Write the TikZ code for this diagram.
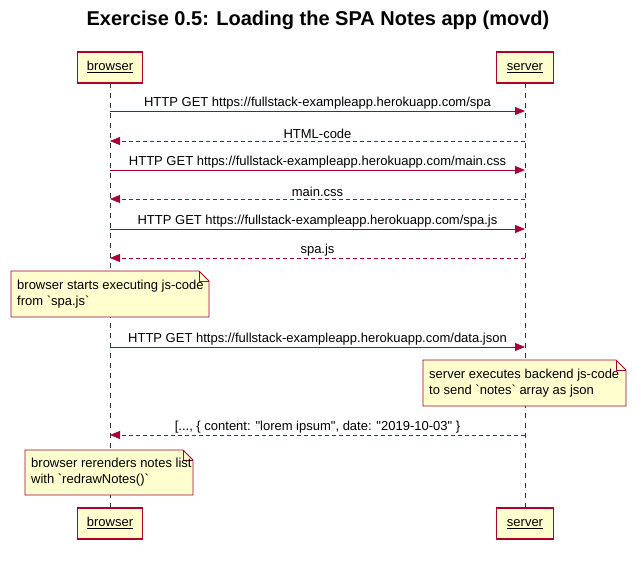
\documentclass[tikz,border=0pt]{standalone}
\usepackage{fontspec}
\setmainfont{Liberation Sans}[Ligatures=TeXOff]
\usetikzlibrary{arrows.meta}
\definecolor{pred}{HTML}{A80036}
\definecolor{pfill}{HTML}{FEFECE}
\newcommand{\bq}{\symbol{96}}
\newcommand{\dq}{\symbol{34}}
\tikzset{
  x=1pt, y=-1pt,
  partbox/.style={draw=pred, fill=pfill, line width=1.2pt, minimum height=31pt, inner xsep=6pt, text height=9.5pt, text depth=3pt, font=\fontsize{13}{15}\selectfont},
  lifeline/.style={dash pattern=on 5pt off 5pt, line width=0.8pt, black!80},
  msg/.style={draw=pred, line width=0.8pt, -{Triangle[length=10pt,width=8pt]}},
  ret/.style={msg, dash pattern=on 4pt off 3pt},
  mlabel/.style={font=\fontsize{13}{15}\selectfont, anchor=south, inner sep=1.5pt},
  notetext/.style={font=\fontsize{13}{16}\selectfont, align=left, anchor=north west, inner sep=0pt},
}
\newcommand{\notebox}[4]{% x1,y1,x2,y2
  \fill[pfill] (#1,#2) -- (#3-10,#2) -- (#3,#2+10) -- (#3,#4) -- (#1,#4) -- cycle;
  \draw[pred, line width=0.8pt] (#1,#2) -- (#3-10,#2) -- (#3,#2+10) -- (#3,#4) -- (#1,#4) -- cycle;
  \draw[pred, line width=0.8pt] (#3-10,#2) -- (#3-10,#2+10) -- (#3,#2+10);
}
\begin{document}
\begin{tikzpicture}
\useasboundingbox (0,0) rectangle (635,564);
\node[font=\fontsize{20}{24}\selectfont\bfseries] (title) at (318,20) {Exercise 0.5: Loading the SPA Notes app (movd)};

\draw[lifeline] (110,83) -- (110,508);
\draw[lifeline] (525,83) -- (525,508);

\node[partbox, minimum width=65pt] (btop) at (110,67.5) {\underline{browser}};
\node[partbox, minimum width=57pt] (stop) at (525,67.5) {\underline{server}};
\node[partbox, minimum width=65pt] (bbot) at (110,523.5) {\underline{browser}};
\node[partbox, minimum width=57pt] (sbot) at (525,523.5) {\underline{server}};

% messages
\coordinate (b1) at (110,111); \coordinate (s1) at (525,111);
\draw[msg] (b1) -- node[mlabel] (m1) {HTTP GET https://fullstack-exampleapp.herokuapp.com/spa} (s1);
\coordinate (b2) at (110,141); \coordinate (s2) at (525,141);
\draw[ret] (s2) -- node[mlabel] (m2) {HTML-code} (b2);
\coordinate (b3) at (110,170); \coordinate (s3) at (525,170);
\draw[msg] (b3) -- node[mlabel] (m3) {HTTP GET https://fullstack-exampleapp.herokuapp.com/main.css} (s3);
\coordinate (b4) at (110,199); \coordinate (s4) at (525,199);
\draw[ret] (s4) -- node[mlabel] (m4) {main.css} (b4);
\coordinate (b5) at (110,229); \coordinate (s5) at (525,229);
\draw[msg] (b5) -- node[mlabel] (m5) {HTTP GET https://fullstack-exampleapp.herokuapp.com/spa.js} (s5);
\coordinate (b6) at (110,258); \coordinate (s6) at (525,258);
\draw[ret] (s6) -- node[mlabel] (m6) {spa.js} (b6);

\notebox{11}{271}{209}{317}
\node[notetext] (n1) at (17,280) {browser starts executing js-code\\from \bq spa.js\bq};

\coordinate (b7) at (110,347); \coordinate (s7) at (525,347);
\draw[msg] (b7) -- node[mlabel] (m7) {HTTP GET https://fullstack-exampleapp.herokuapp.com/data.json} (s7);

\notebox{423}{360}{626}{406}
\node[notetext] (n2) at (429,369) {server executes backend js-code\\to send \bq notes\bq{} array as json};

\coordinate (b8) at (110,435); \coordinate (s8) at (525,435);
\draw[ret] (s8) -- node[mlabel] (m8) {[..., \{ content: \dq lorem ipsum\dq, date: \dq 2019-10-03\dq{} \}} (b8);

\notebox{25}{450}{193}{495}
\node[notetext] (n3) at (31,458) {browser rerenders notes list\\with \bq redrawNotes()\bq};
\end{tikzpicture}
\end{document}
